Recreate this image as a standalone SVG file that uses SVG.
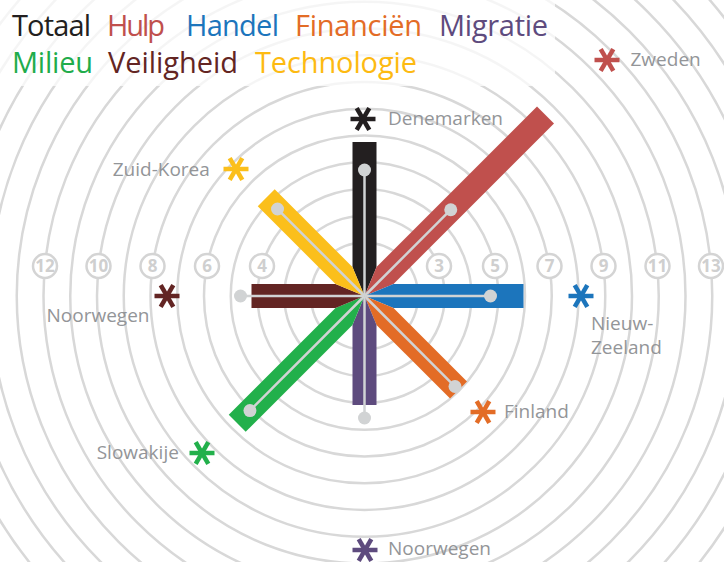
<svg xmlns="http://www.w3.org/2000/svg" xmlns:xlink="http://www.w3.org/1999/xlink" width="724" height="562" viewBox="0 0 724 562">
<style>
.ring{fill:none;stroke:#d8d8d8;stroke-width:2.5}
.lab circle{fill:#fff;stroke:#d4d4d4;stroke-width:2.5}
.lab text{font-family:"Open Sans","Liberation Sans",sans-serif;font-weight:bold;font-size:17px;fill:#cfcfcf;text-anchor:middle}
.gl{stroke:#d1d3d4;stroke-width:2.5}
.gd{fill:#d1d3d4}
.country{font-family:"Open Sans","Liberation Sans",sans-serif;font-size:19px;fill:#939598}
.title{font-family:"Open Sans","Liberation Sans",sans-serif;font-size:29px}
.ast line{stroke:currentColor;stroke-width:4.5}
</style>
<defs>
<g id="ast" class="ast">
<line x1="-12.5" y1="0" x2="12.5" y2="0"/>
<line x1="-6.3" y1="-10.9" x2="6.3" y2="10.9"/>
<line x1="6.3" y1="-10.9" x2="-6.3" y2="10.9"/>
</g>
</defs>
<rect width="724" height="562" fill="#fff"/>
<g id="rings">
<circle class="ring" cx="364.5" cy="296" r="26.75"/>
<circle class="ring" cx="364.5" cy="296" r="53.5"/>
<circle class="ring" cx="364.5" cy="296" r="80.25"/>
<circle class="ring" cx="364.5" cy="296" r="107"/>
<circle class="ring" cx="364.5" cy="296" r="133.75"/>
<circle class="ring" cx="364.5" cy="296" r="160.5"/>
<circle class="ring" cx="364.5" cy="296" r="187.25"/>
<circle class="ring" cx="364.5" cy="296" r="214"/>
<circle class="ring" cx="364.5" cy="296" r="240.75"/>
<circle class="ring" cx="364.5" cy="296" r="267.5"/>
<circle class="ring" cx="364.5" cy="296" r="294.25"/>
<circle class="ring" cx="364.5" cy="296" r="321"/>
<circle class="ring" cx="364.5" cy="296" r="347.75"/>
<circle class="ring" cx="364.5" cy="296" r="374.5"/>
<circle class="ring" cx="364.5" cy="296" r="401.25"/>
<circle class="ring" cx="364.5" cy="296" r="428"/>
<circle class="ring" cx="364.5" cy="296" r="454.75"/>
<circle class="ring" cx="364.5" cy="296" r="481.5"/>
</g>
<rect x="0" y="0" width="555" height="86" fill="#fff" opacity="0.75"/>
<g id="scale" class="lab">
<circle cx="439" cy="266" r="12"/><text x="439" y="272">3</text>
<circle cx="262" cy="266" r="12"/><text x="262" y="272">4</text>
<circle cx="495" cy="266" r="12"/><text x="495" y="272">5</text>
<circle cx="207" cy="266" r="12"/><text x="207" y="272">6</text>
<circle cx="549.5" cy="266" r="12"/><text x="549.5" y="272">7</text>
<circle cx="152.5" cy="266" r="12"/><text x="152.5" y="272">8</text>
<circle cx="603.5" cy="266" r="12"/><text x="603.5" y="272">9</text>
<circle cx="98.5" cy="266" r="12"/><text x="98.5" y="272">10</text>
<circle cx="657.5" cy="266" r="12"/><text x="657.5" y="272">11</text>
<circle cx="45" cy="266" r="12"/><text x="45" y="272">12</text>
<circle cx="711" cy="266" r="12"/><text x="711" y="272">13</text>
</g>
<g id="connectors">
<g id="spoke-totaal" transform="translate(364.5,296) rotate(-90)">
<polygon points="0,0 29,-12 154,-12 154,12 29,12" fill="#231f20"/>
<line class="gl" x1="0" y1="0" x2="126" y2="0"/><circle class="gd" cx="126" cy="0" r="6.5"/>
</g>
<g id="spoke-hulp" transform="translate(364.5,296) rotate(-45)">
<polygon points="0,0 29,-12 256,-12 256,12 29,12" fill="#c0504d"/>
<line class="gl" x1="0" y1="0" x2="122" y2="0"/><circle class="gd" cx="122" cy="0" r="6.5"/>
</g>
<g id="spoke-handel" transform="translate(364.5,296) rotate(0)">
<polygon points="0,0 29,-12 159,-12 159,12 29,12" fill="#1c75bc"/>
<line class="gl" x1="0" y1="0" x2="126" y2="0"/><circle class="gd" cx="126" cy="0" r="6.5"/>
</g>
<g id="spoke-financien" transform="translate(364.5,296) rotate(45)">
<polygon points="0,0 29,-12 133,-12 133,12 29,12" fill="#e36c26"/>
<line class="gl" x1="0" y1="0" x2="128" y2="0"/><circle class="gd" cx="128" cy="0" r="6.5"/>
</g>
<g id="spoke-migratie" transform="translate(364.5,296) rotate(90)">
<polygon points="0,0 29,-12 109,-12 109,12 29,12" fill="#5e4b7e"/>
<line class="gl" x1="0" y1="0" x2="122" y2="0"/><circle class="gd" cx="122" cy="0" r="6.5"/>
</g>
<g id="spoke-milieu" transform="translate(364.5,296) rotate(135)">
<polygon points="0,0 29,-12 180,-12 180,12 29,12" fill="#22b04b"/>
<line class="gl" x1="0" y1="0" x2="162" y2="0"/><circle class="gd" cx="162" cy="0" r="6.5"/>
</g>
<g id="spoke-veiligheid" transform="translate(364.5,296) rotate(180)">
<polygon points="0,0 29,-12 113,-12 113,12 29,12" fill="#632523"/>
<line class="gl" x1="0" y1="0" x2="124" y2="0"/><circle class="gd" cx="124" cy="0" r="6.5"/>
</g>
<g id="spoke-technologie" transform="translate(364.5,296) rotate(-135)">
<polygon points="0,0 29,-12 139,-12 139,12 29,12" fill="#fbbf1b"/>
<line class="gl" x1="0" y1="0" x2="123" y2="0"/><circle class="gd" cx="123" cy="0" r="6.5"/>
</g>
</g>
<g id="country-denemarken"><use href="#ast" x="363" y="119" style="color:#231f20"/><text class="country" x="388" y="124.5">Denemarken</text></g>
<g id="country-zweden"><use href="#ast" x="607" y="60" style="color:#c0504d"/><text class="country" x="630.5" y="65.7">Zweden</text></g>
<g id="country-nieuwzeeland"><use href="#ast" x="581" y="296" style="color:#1c75bc"/><text class="country" x="591" y="330">Nieuw-</text><text class="country" x="591" y="354">Zeeland</text></g>
<g id="country-finland"><use href="#ast" x="483" y="412" style="color:#e36c26"/><text class="country" x="504" y="418.3">Finland</text></g>
<g id="country-noorwegen-migratie"><use href="#ast" x="365" y="550" style="color:#5e4b7e"/><text class="country" x="388" y="555">Noorwegen</text></g>
<g id="country-slowakije"><use href="#ast" x="202" y="453" style="color:#22b04b"/><text class="country" x="96.7" y="459">Slowakije</text></g>
<g id="country-noorwegen-veiligheid"><use href="#ast" x="167" y="296" style="color:#632523"/><text class="country" x="46.5" y="321.7">Noorwegen</text></g>
<g id="country-zuidkorea"><use href="#ast" x="236" y="169" style="color:#fbbf1b"/><text class="country" x="112.7" y="175.7">Zuid-Korea</text></g>
<g id="legend" class="title">
<text x="12" y="36" fill="#231f20" textLength="79">Totaal</text>
<text x="107" y="36" fill="#c0504d" textLength="58">Hulp</text>
<text x="186" y="36" fill="#1c75bc" textLength="93">Handel</text>
<text x="295" y="36" fill="#e36c26" textLength="127">Financiën</text>
<text x="439" y="36" fill="#5e4b7e" textLength="109">Migratie</text>
<text x="12" y="73" fill="#21ac4b" textLength="81">Milieu</text>
<text x="108" y="73" fill="#632523" textLength="130">Veiligheid</text>
<text x="255" y="73" fill="#fdba12" textLength="162">Technologie</text>
</g>
</svg>
